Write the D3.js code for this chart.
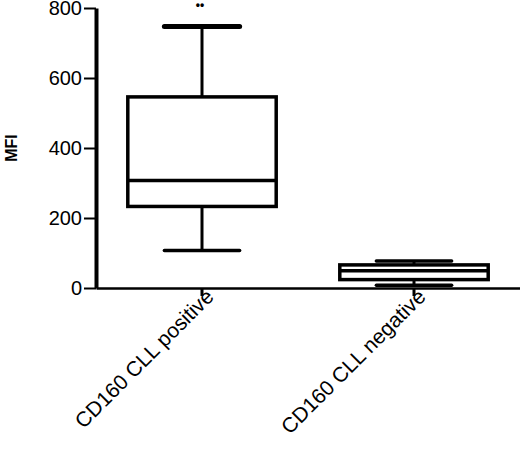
<!DOCTYPE html>
<html>
<head>
<meta charset="utf-8">
<script src="https://cdn.jsdelivr.net/npm/d3@7"></script>
<style>
  body { margin: 0; background: #fff; }
  svg { display: block; font-family: Arial, "Liberation Sans", sans-serif; }
</style>
</head>
<body>
<div id="chart"></div>
<script>
// data
const groups = ["CD160 CLL positive", "CD160 CLL negative"];
const whiskerMin = [107, 8];
const quart1 = [233, 24];
const medians = [307, 49];
const quart3 = [546, 66];
const whiskerMax = [747, 77];
const yTicks = [0, 200, 400, 600, 800];
const yLabel = "MFI";
const marks = ["••", ""]; // little dots above the first box

const width = 520;
const height = 451;
const margin = { top: 8, bottom: 163, left: 96, right: 0 };

const svg = d3.select("#chart").append("svg").attr("width", width).attr("height", height);

const xScale = d3.scaleBand()
  .domain(groups)
  .range([margin.left, width - margin.right])
  .padding(0);

const yScale = d3.scaleLinear()
  .domain([0, 800])
  .range([height - margin.bottom, margin.top]);

const boxW = xScale.bandwidth() * 0.7;
const capW = xScale.bandwidth() * 0.355;
const cx = (i) => xScale(groups[i]) + xScale.bandwidth() / 2;

// y axis
const axisY = svg.append("g")
  .attr("transform", "translate(" + margin.left + ",0)")
  .call(d3.axisLeft(yScale).tickValues(yTicks).tickSize(12).tickSizeOuter(0).tickPadding(2));
axisY.select(".domain").attr("stroke-width", 4);
axisY.selectAll(".tick line").attr("stroke-width", 2);
axisY.selectAll(".tick text").attr("font-size", "20px").attr("fill", "#000");

svg.append("text")
  .attr("transform", "translate(17," + yScale(400) + ") rotate(-90)")
  .attr("text-anchor", "middle")
  .attr("font-size", "16px")
  .attr("font-weight", "bold")
  .text(yLabel);

// x axis
const axisX = svg.append("g")
  .attr("transform", "translate(0," + yScale(0) + ")")
  .call(d3.axisBottom(xScale).tickSize(8).tickSizeOuter(0));
axisX.select(".domain").attr("stroke-width", 2.5);
axisX.selectAll(".tick line").attr("stroke-width", 3);
axisX.selectAll(".tick text")
  .attr("font-size", "21px")
  .attr("fill", "#000")
  .attr("text-anchor", "end")
  .attr("dx", "0.1em")
  .attr("dy", "0.25em")
  .attr("transform", "rotate(-45)");

// boxes
const g = svg.append("g").attr("stroke", "#000").attr("fill", "none");
groups.forEach((name, i) => {
  const x = cx(i);
  // whiskers
  g.append("line").attr("x1", x).attr("x2", x)
    .attr("y1", yScale(whiskerMax[i])).attr("y2", yScale(quart3[i])).attr("stroke-width", 3);
  g.append("line").attr("x1", x).attr("x2", x)
    .attr("y1", yScale(quart1[i])).attr("y2", yScale(whiskerMin[i])).attr("stroke-width", 3);
  // caps
  [whiskerMax[i], whiskerMin[i]].forEach(v => {
    g.append("line").attr("x1", x - capW / 2).attr("x2", x + capW / 2)
      .attr("y1", yScale(v)).attr("y2", yScale(v))
      .attr("stroke-width", i == 0 && v == whiskerMax[i] ? 5 : 3.5)
      .attr("stroke-linecap", "round");
  });
  // box
  g.append("rect")
    .attr("x", x - boxW / 2)
    .attr("y", yScale(quart3[i]))
    .attr("width", boxW)
    .attr("height", yScale(quart1[i]) - yScale(quart3[i]))
    .attr("fill", "#fff")
    .attr("stroke-width", 3.5);
  g.append("line").attr("x1", x - boxW / 2).attr("x2", x + boxW / 2)
    .attr("y1", yScale(medians[i])).attr("y2", yScale(medians[i])).attr("stroke-width", 3.5);
  // dots
  if (marks[i]) {
    svg.append("text")
      .attr("x", x - 2)
      .attr("y", yScale(800) + 1)
      .attr("text-anchor", "middle")
      .attr("font-size", "12px")
      .attr("font-weight", "bold")
      .text(marks[i]);
  }
});
</script>
</body>
</html>
